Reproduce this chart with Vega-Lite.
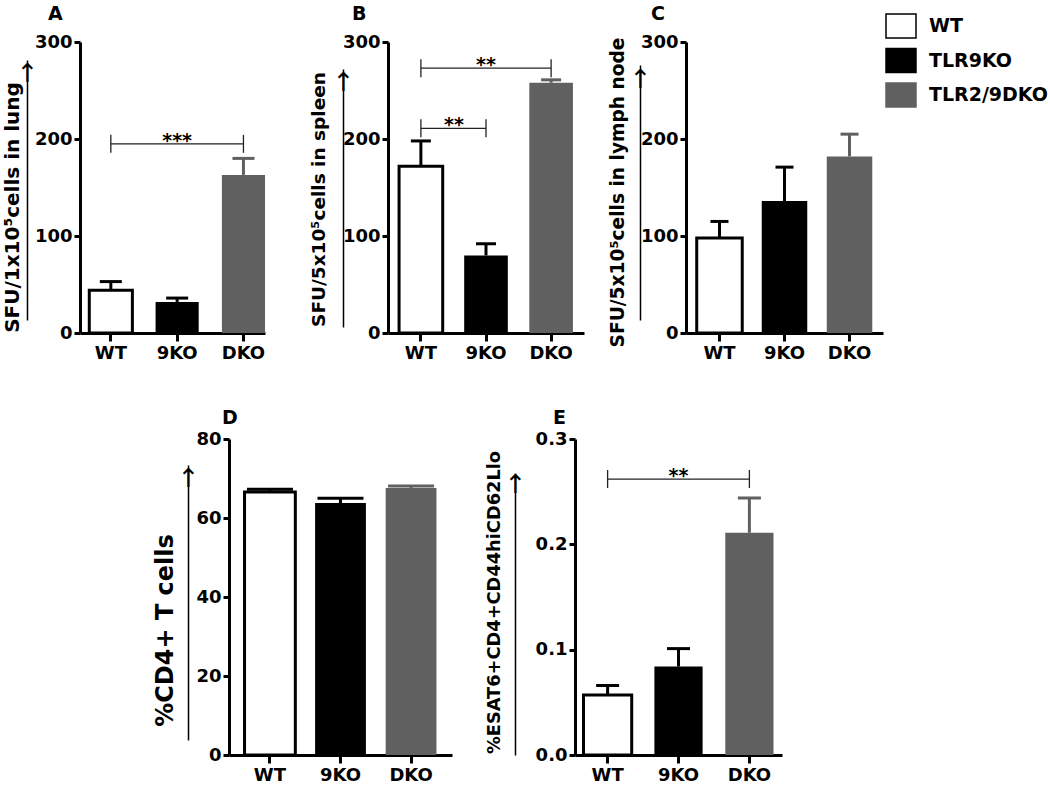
{
  "$schema": "https://vega.github.io/schema/vega-lite/v6.json",
  "background": "white",
  "padding": {"left": 2, "top": 5, "right": 3, "bottom": 3},
  "config": {
    "view": {"stroke": null},
    "font": "DejaVu Sans",
    "axis": {
      "domainColor": "black", "domainWidth": 3, "tickColor": "black", "tickWidth": 3, "tickSize": 6,
      "labelFont": "DejaVu Sans", "labelFontWeight": "bold", "labelFontSize": 18, "labelColor": "black", "labelPadding": 2,
      "titleFont": "DejaVu Sans", "titleFontWeight": "bold", "titleColor": "black", "grid": false
    },
    "title": {"font": "DejaVu Sans", "fontWeight": "bold", "fontSize": 19, "color": "black", "anchor": "start", "frame": "group"}
  },
  "datasets": {
    "bars": [
      {"panel": "A", "group": "WT", "value": 44, "upper": 53},
      {"panel": "A", "group": "9KO", "value": 32, "upper": 36},
      {"panel": "A", "group": "DKO", "value": 163, "upper": 180},
      {"panel": "B", "group": "WT", "value": 172, "upper": 198},
      {"panel": "B", "group": "9KO", "value": 80, "upper": 92},
      {"panel": "B", "group": "DKO", "value": 258, "upper": 261},
      {"panel": "C", "group": "WT", "value": 98, "upper": 115},
      {"panel": "C", "group": "9KO", "value": 136, "upper": 171},
      {"panel": "C", "group": "DKO", "value": 182, "upper": 205},
      {"panel": "D", "group": "WT", "value": 66.6, "upper": 67.3},
      {"panel": "D", "group": "9KO", "value": 63.8, "upper": 65.0},
      {"panel": "D", "group": "DKO", "value": 67.6, "upper": 68.1},
      {"panel": "E", "group": "WT", "value": 0.057, "upper": 0.066},
      {"panel": "E", "group": "9KO", "value": 0.084, "upper": 0.101},
      {"panel": "E", "group": "DKO", "value": 0.211, "upper": 0.244}
    ],
    "sig": [
      {"panel": "A", "from": "WT", "to": "DKO", "mid": "9KO", "level": 195, "label": "***"},
      {"panel": "B", "from": "WT", "to": "DKO", "mid": "9KO", "level": 273, "label": "**"},
      {"panel": "B", "from": "WT", "to": "9KO", "mid": "WT", "level": 211, "label": "**"},
      {"panel": "E", "from": "WT", "to": "DKO", "mid": "9KO", "level": 0.262, "label": "**"}
    ],
    "none": []
  },
  "spacing": 47,
  "vconcat": [
    {
      "spacing": 24,
      "hconcat": [
        {
          "spacing": 44,
          "hconcat": [
            {
              "width": 185, "height": 291,
              "title": {"text": "A", "dx": -32, "offset": 9},
              "resolve": {"axis": {"x": "independent", "y": "independent"}},
              "layer": [
                {
                  "data": {"name": "bars"}, "transform": [{"filter": "datum.panel === 'A'"}],
                  "mark": {"type": "bar", "stroke": "black"},
                  "encoding": {
                    "x": {"field": "group", "type": "nominal", "scale": {"domain": ["WT", "9KO", "DKO"], "paddingInner": 0.35, "paddingOuter": 0.07, "align": 1}, "axis": {"title": null, "labelAngle": 0, "tickSize": 8, "labelPadding": 3}},
                    "y": {"field": "value", "type": "quantitative", "scale": {"domain": [0, 300], "nice": false}, "axis": {"title": null, "orient": "left", "values": [0, 100, 200, 300]}},
                    "color": {"field": "group", "type": "nominal", "scale": {"domain": ["WT", "9KO", "DKO"], "range": ["white", "black", "#606060"]},
                      "legend": {"orient": "none", "legendX": 808, "legendY": -29, "title": null, "padding": 0,
                        "symbolType": "M-1.25,-1H1.25V1H-1.25Z", "symbolSize": 576, "labelFont": "DejaVu Sans", "labelFontWeight": "bold", "labelFontSize": 19, "labelColor": "black", "labelOffset": 15, "rowPadding": 4.5,
                        "labelExpr": "datum.value === 'WT' ? 'WT' : datum.value === '9KO' ? 'TLR9KO' : 'TLR2/9DKO'",
                        "encode": {"symbols": {"update": {"stroke": {"signal": "datum.value === 'WT' ? 'black' : 'transparent'"}, "strokeWidth": {"value": 3}}}}}},
                    "strokeWidth": {"condition": {"test": "datum.group === 'WT'", "value": 3}, "value": 0}
                  }
                },
                {
                  "data": {"name": "bars"}, "transform": [{"filter": "datum.panel === 'A'"}],
                  "mark": {"type": "rule", "strokeWidth": 3},
                  "encoding": {
                    "x": {"field": "group", "type": "nominal", "scale": {"domain": ["WT", "9KO", "DKO"]}, "axis": null},
                    "y": {"field": "value", "type": "quantitative", "scale": {"domain": [0, 300], "nice": false},
                      "axis": {"orient": "left", "offset": 53, "title": "SFU/1x10⁵cells in lung", "titleFontSize": 20, "titleY": 165, "titlePadding": -6.5,
                        "domainWidth": 1.5, "domainDash": [0, 13, 260, 2000], "ticks": false, "tickSize": 0, "values": [281], "labelExpr": "'↑'", "labelAlign": "center", "labelBaseline": "top", "labelPadding": 0, "labelFontWeight": "normal", "labelFontSize": 26}},
                    "y2": {"field": "upper"},
                    "stroke": {"field": "group", "type": "nominal", "scale": {"domain": ["WT", "9KO", "DKO"], "range": ["black", "black", "#606060"]}, "legend": null}
                  }
                },
                {
                  "data": {"name": "bars"}, "transform": [{"filter": "datum.panel === 'A'"}],
                  "mark": {"type": "tick", "orient": "horizontal", "thickness": 3, "size": 22, "opacity": 1},
                  "encoding": {
                    "x": {"field": "group", "type": "nominal", "scale": {"domain": ["WT", "9KO", "DKO"]}, "axis": null},
                    "y": {"field": "upper", "type": "quantitative", "scale": {"domain": [0, 300], "nice": false}, "axis": null},
                    "fill": {"field": "group", "type": "nominal", "scale": {"domain": ["WT", "9KO", "DKO"], "range": ["black", "black", "#606060"]}, "legend": null}
                  }
                },
                {
                  "data": {"name": "sig"}, "transform": [{"filter": "datum.panel === 'A'"}],
                  "mark": {"type": "rule", "strokeWidth": 1.3, "color": "#222"},
                  "encoding": {
                    "x": {"field": "from", "type": "nominal", "bandPosition": 0.5, "scale": {"domain": ["WT", "9KO", "DKO"]}, "axis": null},
                    "x2": {"field": "to", "bandPosition": 0.5},
                    "y": {"field": "level", "type": "quantitative", "scale": {"domain": [0, 300], "nice": false}, "axis": null}
                  }
                },
                {
                  "data": {"name": "sig"}, "transform": [{"filter": "datum.panel === 'A'"}, {"fold": ["from", "to"], "as": ["end", "cat"]}],
                  "mark": {"type": "tick", "orient": "vertical", "thickness": 1.3, "size": 18, "color": "#222", "opacity": 1},
                  "encoding": {
                    "x": {"field": "cat", "type": "nominal", "scale": {"domain": ["WT", "9KO", "DKO"]}, "axis": null},
                    "y": {"field": "level", "type": "quantitative", "scale": {"domain": [0, 300], "nice": false}, "axis": null}
                  }
                },
                {
                  "data": {"name": "sig"}, "transform": [{"filter": "datum.panel === 'A'"}],
                  "mark": {"type": "text", "font": "DejaVu Sans", "fontWeight": "bold", "fontSize": 19, "baseline": "alphabetic", "dy": 3, "color": "black"},
                  "encoding": {
                    "x": {"field": "mid", "type": "nominal", "scale": {"domain": ["WT", "9KO", "DKO"]}, "axis": null},
                    "y": {"field": "level", "type": "quantitative", "scale": {"domain": [0, 300], "nice": false}, "axis": null},
                    "text": {"field": "label"}
                  }
                }
              ]
            },
            {
              "width": 196, "height": 291,
              "title": {"text": "B", "dx": -36, "offset": 9},
              "resolve": {"axis": {"x": "independent", "y": "independent"}},
              "layer": [
                {
                  "data": {"name": "bars"}, "transform": [{"filter": "datum.panel === 'B'"}],
                  "mark": {"type": "bar", "stroke": "black"},
                  "encoding": {
                    "x": {"field": "group", "type": "nominal", "scale": {"domain": ["WT", "9KO", "DKO"], "paddingInner": 0.33, "paddingOuter": 0.17}, "axis": {"title": null, "labelAngle": 0, "tickSize": 8, "labelPadding": 3}},
                    "y": {"field": "value", "type": "quantitative", "scale": {"domain": [0, 300], "nice": false}, "axis": {"title": null, "orient": "left", "values": [0, 100, 200, 300]}},
                    "color": {"field": "group", "type": "nominal", "scale": {"domain": ["WT", "9KO", "DKO"], "range": ["white", "black", "#606060"]}},
                    "strokeWidth": {"condition": {"test": "datum.group === 'WT'", "value": 3}, "value": 0}
                  }
                },
                {
                  "data": {"name": "bars"}, "transform": [{"filter": "datum.panel === 'B'"}],
                  "mark": {"type": "rule", "strokeWidth": 3},
                  "encoding": {
                    "x": {"field": "group", "type": "nominal", "scale": {"domain": ["WT", "9KO", "DKO"]}, "axis": null},
                    "y": {"field": "value", "type": "quantitative", "scale": {"domain": [0, 300], "nice": false},
                      "axis": {"orient": "left", "offset": 45, "title": "SFU/5x10⁵cells in spleen", "titleFontSize": 18.5, "titleY": 157, "titlePadding": 3.5,
                        "domainWidth": 1.5, "domainDash": [0, 6, 258, 2000], "ticks": false, "tickSize": 0, "values": [272], "labelExpr": "'↑'", "labelAlign": "center", "labelBaseline": "top", "labelPadding": 0, "labelFontWeight": "normal", "labelFontSize": 26}},
                    "y2": {"field": "upper"},
                    "stroke": {"field": "group", "type": "nominal", "scale": {"domain": ["WT", "9KO", "DKO"], "range": ["black", "black", "#606060"]}, "legend": null}
                  }
                },
                {
                  "data": {"name": "bars"}, "transform": [{"filter": "datum.panel === 'B'"}],
                  "mark": {"type": "tick", "orient": "horizontal", "thickness": 3, "size": 20, "opacity": 1},
                  "encoding": {
                    "x": {"field": "group", "type": "nominal", "scale": {"domain": ["WT", "9KO", "DKO"]}, "axis": null},
                    "y": {"field": "upper", "type": "quantitative", "scale": {"domain": [0, 300], "nice": false}, "axis": null},
                    "fill": {"field": "group", "type": "nominal", "scale": {"domain": ["WT", "9KO", "DKO"], "range": ["black", "black", "#606060"]}, "legend": null}
                  }
                },
                {
                  "data": {"name": "sig"}, "transform": [{"filter": "datum.panel === 'B'"}],
                  "mark": {"type": "rule", "strokeWidth": 1.3, "color": "#222"},
                  "encoding": {
                    "x": {"field": "from", "type": "nominal", "bandPosition": 0.5, "scale": {"domain": ["WT", "9KO", "DKO"]}, "axis": null},
                    "x2": {"field": "to", "bandPosition": 0.5},
                    "y": {"field": "level", "type": "quantitative", "scale": {"domain": [0, 300], "nice": false}, "axis": null}
                  }
                },
                {
                  "data": {"name": "sig"}, "transform": [{"filter": "datum.panel === 'B'"}, {"fold": ["from", "to"], "as": ["end", "cat"]}],
                  "mark": {"type": "tick", "orient": "vertical", "thickness": 1.3, "size": 18, "color": "#222", "opacity": 1},
                  "encoding": {
                    "x": {"field": "cat", "type": "nominal", "scale": {"domain": ["WT", "9KO", "DKO"]}, "axis": null},
                    "y": {"field": "level", "type": "quantitative", "scale": {"domain": [0, 300], "nice": false}, "axis": null}
                  }
                },
                {
                  "data": {"name": "sig"}, "transform": [{"filter": "datum.panel === 'B' && datum.to === 'DKO'"}],
                  "mark": {"type": "text", "font": "DejaVu Sans", "fontWeight": "bold", "fontSize": 19, "baseline": "alphabetic", "dy": 3, "color": "black"},
                  "encoding": {
                    "x": {"field": "mid", "type": "nominal", "scale": {"domain": ["WT", "9KO", "DKO"]}, "axis": null},
                    "y": {"field": "level", "type": "quantitative", "scale": {"domain": [0, 300], "nice": false}, "axis": null},
                    "text": {"field": "label"}
                  }
                },
                {
                  "data": {"name": "sig"}, "transform": [{"filter": "datum.panel === 'B' && datum.to === '9KO'"}],
                  "mark": {"type": "text", "font": "DejaVu Sans", "fontWeight": "bold", "fontSize": 19, "baseline": "alphabetic", "dy": 3, "dx": 33, "color": "black"},
                  "encoding": {
                    "x": {"field": "mid", "type": "nominal", "scale": {"domain": ["WT", "9KO", "DKO"]}, "axis": null},
                    "y": {"field": "level", "type": "quantitative", "scale": {"domain": [0, 300], "nice": false}, "axis": null},
                    "text": {"field": "label"}
                  }
                }
              ]
            }
          ]
        },
        {
          "width": 197, "height": 291,
          "title": {"text": "C", "dx": -35, "offset": 9},
          "resolve": {"axis": {"x": "independent", "y": "independent"}},
          "layer": [
            {
              "data": {"name": "bars"}, "transform": [{"filter": "datum.panel === 'C'"}],
              "mark": {"type": "bar", "stroke": "black"},
              "encoding": {
                "x": {"field": "group", "type": "nominal", "scale": {"domain": ["WT", "9KO", "DKO"], "paddingInner": 0.3, "paddingOuter": 0.165}, "axis": {"title": null, "labelAngle": 0, "tickSize": 8, "labelPadding": 3}},
                "y": {"field": "value", "type": "quantitative", "scale": {"domain": [0, 300], "nice": false}, "axis": {"title": null, "orient": "left", "values": [0, 100, 200, 300]}},
                "color": {"field": "group", "type": "nominal", "scale": {"domain": ["WT", "9KO", "DKO"], "range": ["white", "black", "#606060"]}},
                "strokeWidth": {"condition": {"test": "datum.group === 'WT'", "value": 3}, "value": 0}
              }
            },
            {
              "data": {"name": "bars"}, "transform": [{"filter": "datum.panel === 'C'"}],
              "mark": {"type": "rule", "strokeWidth": 3},
              "encoding": {
                "x": {"field": "group", "type": "nominal", "scale": {"domain": ["WT", "9KO", "DKO"]}, "axis": null},
                "y": {"field": "value", "type": "quantitative", "scale": {"domain": [0, 300], "nice": false},
                  "axis": {"orient": "left", "offset": 46, "title": "SFU/5x10⁵cells in lymph node", "titleFontSize": 18.6, "titleY": 150, "titlePadding": 1.5,
                    "domainWidth": 1.5, "domainDash": [0, 13, 255, 2000], "ticks": false, "tickSize": 0, "values": [275], "labelExpr": "'↑'", "labelAlign": "center", "labelBaseline": "top", "labelPadding": 0, "labelFontWeight": "normal", "labelFontSize": 26}},
                "y2": {"field": "upper"},
                "stroke": {"field": "group", "type": "nominal", "scale": {"domain": ["WT", "9KO", "DKO"], "range": ["black", "black", "#606060"]}, "legend": null}
              }
            },
            {
              "data": {"name": "bars"}, "transform": [{"filter": "datum.panel === 'C'"}],
              "mark": {"type": "tick", "orient": "horizontal", "thickness": 3, "size": 18, "opacity": 1},
              "encoding": {
                "x": {"field": "group", "type": "nominal", "scale": {"domain": ["WT", "9KO", "DKO"]}, "axis": null},
                "y": {"field": "upper", "type": "quantitative", "scale": {"domain": [0, 300], "nice": false}, "axis": null},
                "fill": {"field": "group", "type": "nominal", "scale": {"domain": ["WT", "9KO", "DKO"], "range": ["black", "black", "#606060"]}, "legend": null}
              }
            }
          ]
        }
      ]
    },
    {
      "spacing": 33,
      "hconcat": [
        {"width": 39.5, "height": 316, "data": {"name": "none"}, "mark": {"type": "text"}, "encoding": {}},
        {
          "width": 223, "height": 316,
          "title": {"text": "D", "dx": -7, "offset": 2},
          "resolve": {"axis": {"x": "independent", "y": "independent"}},
          "layer": [
            {
              "data": {"name": "bars"}, "transform": [{"filter": "datum.panel === 'D'"}],
              "mark": {"type": "bar", "stroke": "black"},
              "encoding": {
                "x": {"field": "group", "type": "nominal", "scale": {"domain": ["WT", "9KO", "DKO"], "paddingInner": 0.28, "paddingOuter": 0.22}, "axis": {"title": null, "labelAngle": 0, "tickSize": 8, "labelPadding": 3}},
                "y": {"field": "value", "type": "quantitative", "scale": {"domain": [0, 80], "nice": false}, "axis": {"title": null, "orient": "left", "values": [0, 20, 40, 60, 80]}},
                "color": {"field": "group", "type": "nominal", "scale": {"domain": ["WT", "9KO", "DKO"], "range": ["white", "black", "#606060"]}},
                "strokeWidth": {"condition": {"test": "datum.group === 'WT'", "value": 3}, "value": 0}
              }
            },
            {
              "data": {"name": "bars"}, "transform": [{"filter": "datum.panel === 'D'"}],
              "mark": {"type": "rule", "strokeWidth": 3},
              "encoding": {
                "x": {"field": "group", "type": "nominal", "scale": {"domain": ["WT", "9KO", "DKO"]}, "axis": null},
                "y": {"field": "value", "type": "quantitative", "scale": {"domain": [0, 80], "nice": false},
                  "axis": {"orient": "left", "offset": 41, "title": "%CD4+ T cells", "titleFontSize": 24, "titleY": 191, "titlePadding": -0.5,
                    "domainWidth": 1.5, "domainDash": [0, 15, 275, 2000], "ticks": false, "tickSize": 0, "values": [73.4], "labelExpr": "'↑'", "labelAlign": "center", "labelBaseline": "top", "labelPadding": 0, "labelFontWeight": "normal", "labelFontSize": 26}},
                "y2": {"field": "upper"},
                "stroke": {"field": "group", "type": "nominal", "scale": {"domain": ["WT", "9KO", "DKO"], "range": ["black", "black", "#606060"]}, "legend": null}
              }
            },
            {
              "data": {"name": "bars"}, "transform": [{"filter": "datum.panel === 'D'"}],
              "mark": {"type": "tick", "orient": "horizontal", "thickness": 3, "size": 46, "opacity": 1},
              "encoding": {
                "x": {"field": "group", "type": "nominal", "scale": {"domain": ["WT", "9KO", "DKO"]}, "axis": null},
                "y": {"field": "upper", "type": "quantitative", "scale": {"domain": [0, 80], "nice": false}, "axis": null},
                "fill": {"field": "group", "type": "nominal", "scale": {"domain": ["WT", "9KO", "DKO"], "range": ["black", "black", "#606060"]}, "legend": null}
              }
            }
          ]
        },
        {
          "width": 207, "height": 316,
          "title": {"text": "E", "dx": -22, "offset": 2},
          "resolve": {"axis": {"x": "independent", "y": "independent"}},
          "layer": [
            {
              "data": {"name": "bars"}, "transform": [{"filter": "datum.panel === 'E'"}],
              "mark": {"type": "bar", "stroke": "black"},
              "encoding": {
                "x": {"field": "group", "type": "nominal", "scale": {"domain": ["WT", "9KO", "DKO"], "paddingInner": 0.32, "paddingOuter": 0.12}, "axis": {"title": null, "labelAngle": 0, "tickSize": 8, "labelPadding": 3}},
                "y": {"field": "value", "type": "quantitative", "scale": {"domain": [0, 0.3], "nice": false}, "axis": {"title": null, "orient": "left", "values": [0, 0.1, 0.2, 0.3], "format": ".1f"}},
                "color": {"field": "group", "type": "nominal", "scale": {"domain": ["WT", "9KO", "DKO"], "range": ["white", "black", "#606060"]}},
                "strokeWidth": {"condition": {"test": "datum.group === 'WT'", "value": 3}, "value": 0}
              }
            },
            {
              "data": {"name": "bars"}, "transform": [{"filter": "datum.panel === 'E'"}],
              "mark": {"type": "rule", "strokeWidth": 3},
              "encoding": {
                "x": {"field": "group", "type": "nominal", "scale": {"domain": ["WT", "9KO", "DKO"]}, "axis": null},
                "y": {"field": "value", "type": "quantitative", "scale": {"domain": [0, 0.3], "nice": false},
                  "axis": {"orient": "left", "offset": 60, "title": "%ESAT6+CD4+CD44hiCD62Llo", "titleFontSize": 17.8, "titleY": 163, "titlePadding": 0.5,
                    "domainWidth": 1.5, "domainDash": [282, 2000], "ticks": false, "tickSize": 0, "values": [0.269], "labelExpr": "'↑'", "labelAlign": "center", "labelBaseline": "top", "labelPadding": 0, "labelFontWeight": "normal", "labelFontSize": 26}},
                "y2": {"field": "upper"},
                "stroke": {"field": "group", "type": "nominal", "scale": {"domain": ["WT", "9KO", "DKO"], "range": ["black", "black", "#606060"]}, "legend": null}
              }
            },
            {
              "data": {"name": "bars"}, "transform": [{"filter": "datum.panel === 'E'"}],
              "mark": {"type": "tick", "orient": "horizontal", "thickness": 3, "size": 23, "opacity": 1},
              "encoding": {
                "x": {"field": "group", "type": "nominal", "scale": {"domain": ["WT", "9KO", "DKO"]}, "axis": null},
                "y": {"field": "upper", "type": "quantitative", "scale": {"domain": [0, 0.3], "nice": false}, "axis": null},
                "fill": {"field": "group", "type": "nominal", "scale": {"domain": ["WT", "9KO", "DKO"], "range": ["black", "black", "#606060"]}, "legend": null}
              }
            },
            {
              "data": {"name": "sig"}, "transform": [{"filter": "datum.panel === 'E'"}],
              "mark": {"type": "rule", "strokeWidth": 1.3, "color": "#222"},
              "encoding": {
                "x": {"field": "from", "type": "nominal", "bandPosition": 0.5, "scale": {"domain": ["WT", "9KO", "DKO"]}, "axis": null},
                "x2": {"field": "to", "bandPosition": 0.5},
                "y": {"field": "level", "type": "quantitative", "scale": {"domain": [0, 0.3], "nice": false}, "axis": null}
              }
            },
            {
              "data": {"name": "sig"}, "transform": [{"filter": "datum.panel === 'E'"}, {"fold": ["from", "to"], "as": ["end", "cat"]}],
              "mark": {"type": "tick", "orient": "vertical", "thickness": 1.3, "size": 18, "color": "#222", "opacity": 1},
              "encoding": {
                "x": {"field": "cat", "type": "nominal", "scale": {"domain": ["WT", "9KO", "DKO"]}, "axis": null},
                "y": {"field": "level", "type": "quantitative", "scale": {"domain": [0, 0.3], "nice": false}, "axis": null}
              }
            },
            {
              "data": {"name": "sig"}, "transform": [{"filter": "datum.panel === 'E'"}],
              "mark": {"type": "text", "font": "DejaVu Sans", "fontWeight": "bold", "fontSize": 19, "baseline": "alphabetic", "dy": 3, "color": "black"},
              "encoding": {
                "x": {"field": "mid", "type": "nominal", "scale": {"domain": ["WT", "9KO", "DKO"]}, "axis": null},
                "y": {"field": "level", "type": "quantitative", "scale": {"domain": [0, 0.3], "nice": false}, "axis": null},
                "text": {"field": "label"}
              }
            }
          ]
        }
      ]
    }
  ]
}
